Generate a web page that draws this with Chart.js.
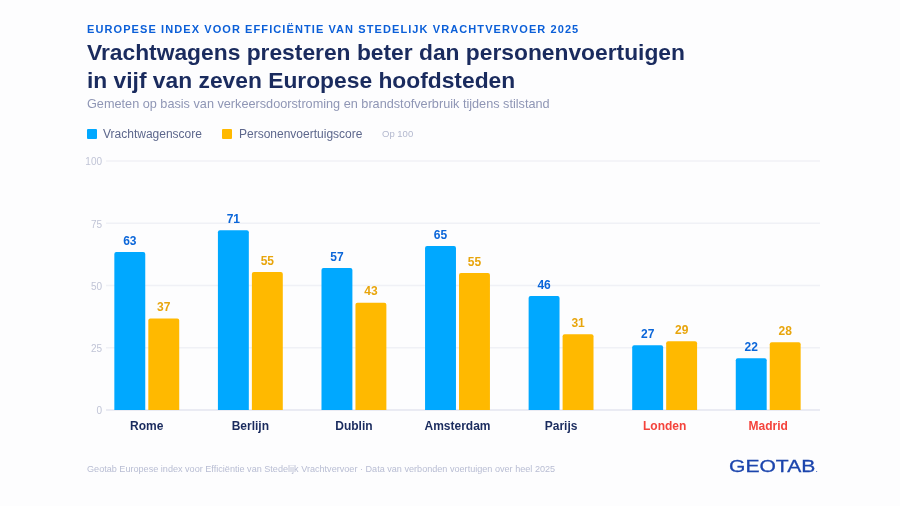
<!DOCTYPE html>
<html lang="nl">
<head>
<meta charset="UTF-8">
<title>Europese index voor efficiëntie van stedelijk vrachtvervoer 2025</title>
<script src="https://cdn.jsdelivr.net/npm/chart.js"></script>
<style>
  html, body { margin: 0; padding: 0; background: #fdfdfe; }
  body { width: 900px; height: 506px; position: relative; overflow: hidden; font-family: "Liberation Sans", Arial, sans-serif; }
  canvas { position: absolute; left: 0; top: 0; }
  .txt { position: absolute; white-space: nowrap; }
  #eyebrow { left: 87px; top: 22px; font-size: 11px; line-height: 14px; font-weight: bold; letter-spacing: 1.09px; color: #0b5fd8; }
  #title { left: 87px; top: 39px; font-size: 22.8px; line-height: 27.6px; font-weight: bold; color: #1a2b5e; }
  #subtitle { left: 87px; top: 97px; font-size: 12.7px; line-height: 15px; color: #8f96b5; }
  #legend { left: 87px; top: 127px; height: 14px; font-size: 12px; line-height: 14px; color: #5d678c; }
  #legend span.box { position: absolute; top: 2px; width: 10px; height: 10px; border-radius: 1px; }
  #legend span.lbl { position: absolute; top: 0; }
  #legend span.note { position: absolute; top: 0; font-size: 9.5px; color: #b3b8ce; }
  #footer { left: 87px; top: 463px; font-size: 9.1px; line-height: 12px; color: #b8bdd3; }
  #logo { left: 729px; top: 457px; font-size: 17px; line-height: 20px; color: #1c45ad; -webkit-text-stroke: 0.3px #1c45ad; transform-origin: left top; transform: scaleX(1.24); }
  #logo span { font-size: 8px; -webkit-text-stroke: 0; }
</style>
</head>
<body>
  <canvas id="grafiek" width="900" height="506"></canvas>
  <div class="txt" id="eyebrow">EUROPESE INDEX VOOR EFFICIËNTIE VAN STEDELIJK VRACHTVERVOER 2025</div>
  <div class="txt" id="title">Vrachtwagens presteren beter dan personenvoertuigen<br>in vijf van zeven Europese hoofdsteden</div>
  <div class="txt" id="subtitle">Gemeten op basis van verkeersdoorstroming en brandstofverbruik tijdens stilstand</div>
  <div class="txt" id="legend"></div>
  <div class="txt" id="footer">Geotab Europese index voor Efficiëntie van Stedelijk Vrachtvervoer · Data van verbonden voertuigen over heel 2025</div>
  <div class="txt" id="logo">GEOTAB<span>.</span></div>

<script>
const steden = ["Rome", "Berlijn", "Dublin", "Amsterdam", "Parijs", "Londen", "Madrid"];
const redSteden = ["Londen", "Madrid"];
// bar heights as drawn in the picture
const vrachtwagens = [63.5, 72.2, 57, 65.9, 45.8, 26, 20.8];
const personen = [36.7, 55.4, 43.1, 55, 30.4, 27.6, 27.2];
// the numbers printed above the bars
const vrachtwagensLabels = ["63", "71", "57", "65", "46", "27", "22"];
const personenLabels = ["37", "55", "43", "55", "31", "29", "28"];
const yTicks = [0, 25, 50, 75, 100];

const BLAUW = "#00a8ff";
const GEEL = "#ffb900";

// legend
const legend = document.getElementById("legend");
legend.innerHTML =
  '<span class="box" style="left:0;background:' + BLAUW + '"></span><span class="lbl" style="left:16px">Vrachtwagenscore</span>' +
  '<span class="box" style="left:135px;background:' + GEEL + '"></span><span class="lbl" style="left:152px">Personenvoertuigscore</span>' +
  '<span class="note" style="left:295px">Op 100</span>';

// tick labels reach a bit into the chart area, so move the axis edge after layout
const asPlugin = {
  id: "asRand",
  afterLayout(chart) {
    chart.scales.y.right = chart.chartArea.left + 7;
  }
};

// gridlines start right of the tick labels, not at the chart area edge
const rasterPlugin = {
  id: "raster",
  beforeDatasetsDraw(chart) {
    const ctx = chart.ctx;
    const y = chart.scales.y;
    ctx.save();
    yTicks.forEach(t => {
      const py = y.getPixelForValue(t);
      ctx.strokeStyle = t === 0 ? "#e3e5ef" : "#f0f1f6";
      ctx.lineWidth = 1.5;
      ctx.beginPath();
      ctx.moveTo(106, py);
      ctx.lineTo(chart.chartArea.right, py);
      ctx.stroke();
    });
    ctx.restore();
  }
};

// value labels above the bars
const waardenPlugin = {
  id: "waarden",
  afterDatasetsDraw(chart) {
    const ctx = chart.ctx;
    ctx.save();
    ctx.font = "bold 12px 'Liberation Sans', Arial, sans-serif";
    ctx.textAlign = "center";
    ctx.textBaseline = "middle";
    chart.data.datasets.forEach((ds, i) => {
      ctx.fillStyle = ds.labelColor;
      chart.getDatasetMeta(i).data.forEach((bar, j) => {
        ctx.fillText(ds.labelTexts[j], bar.x, bar.y - 10.5);
      });
    });
    ctx.restore();
  }
};

new Chart(document.getElementById("grafiek").getContext("2d"), {
  type: "bar",
  data: {
    labels: steden,
    datasets: [
      {
        label: "Vrachtwagenscore",
        data: vrachtwagens,
        backgroundColor: BLAUW,
        borderRadius: { topLeft: 2, topRight: 2 },
        categoryPercentage: 0.656,
        barPercentage: 0.91,
        labelTexts: vrachtwagensLabels,
        labelColor: "#0b66d9"
      },
      {
        label: "Personenvoertuigscore",
        data: personen,
        backgroundColor: GEEL,
        borderRadius: { topLeft: 2, topRight: 2 },
        categoryPercentage: 0.656,
        barPercentage: 0.91,
        labelTexts: personenLabels,
        labelColor: "#e8a50c"
      }
    ]
  },
  options: {
    responsive: false,
    animation: false,
    layout: { padding: { left: 55, right: 80, top: 161, bottom: 40 } },
    plugins: { legend: { display: false }, tooltip: { enabled: false } },
    scales: {
      x: {
        grid: { display: false, drawTicks: false },
        border: { display: false },
        afterFit(scale) { scale.height = 56; },
        ticks: {
          padding: 9,
          maxRotation: 0,
          font: { family: "'Liberation Sans', Arial, sans-serif", size: 12, weight: "bold" },
          color: ctx => redSteden.includes(steden[ctx.index]) ? "#f4433c" : "#1a2b5e"
        }
      },
      y: {
        min: 0,
        max: 100,
        grid: { display: false, drawTicks: false },
        border: { display: false },
        afterFit(scale) { scale.width = 40; },
        afterBuildTicks(scale) { scale.ticks = yTicks.map(v => ({ value: v })); },
        ticks: {
          padding: 0,
          labelOffset: 1.5,
          font: { family: "'Liberation Sans', Arial, sans-serif", size: 10 },
          color: "#c0c4d6"
        }
      }
    }
  },
  plugins: [asPlugin, rasterPlugin, waardenPlugin]
});
</script>
</body>
</html>
